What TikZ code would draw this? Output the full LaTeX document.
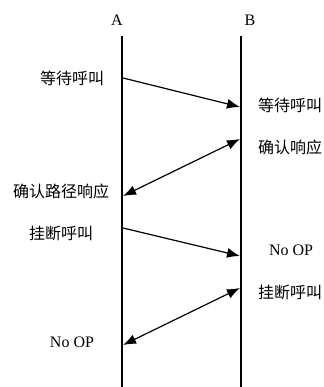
\documentclass[tikz,border=0pt]{standalone}
\usepackage{fontspec}
\setmainfont{Liberation Serif}
\newfontfamily\cjk{Noto Sans CJK SC}
\usetikzlibrary{arrows.meta}
\tikzset{
  life/.style={line width=2.4pt},
  msg/.style={line width=1.2pt,-{Latex[length=13pt,width=10pt]}},
  dmsg/.style={line width=1.2pt,{Latex[length=13pt,width=10pt]}-{Latex[length=13pt,width=10pt]}},
  cn/.style={font=\cjk\fontsize{16pt}{18pt}\selectfont, inner sep=0pt},
  ln/.style={font=\fontsize{16pt}{18pt}\selectfont, inner sep=0pt}
}
\begin{document}
\begin{tikzpicture}[x=1pt,y=-1pt]
\useasboundingbox (0,0) rectangle (323,387);
% headers
\node[ln] (A) at (117,20) {A};
\node[ln] (B) at (250,20) {B};
% lifelines
\coordinate (At) at (122,36);
\coordinate (Ab) at (122,387);
\coordinate (Bt) at (241,36);
\coordinate (Bb) at (241,387);
\draw[life] (At) -- (Ab);
\draw[life] (Bt) -- (Bb);
% message end points
\coordinate (a1) at (123,78);
\coordinate (b1) at (240,107);
\coordinate (b2) at (240,139);
\coordinate (a2) at (123,196);
\coordinate (a3) at (123,228);
\coordinate (b3) at (240,256);
\coordinate (b4) at (240,288);
\coordinate (a4) at (123,345);
\draw[msg] (a1) -- (b1);
\draw[dmsg] (b2) -- (a2);
\draw[msg] (a3) -- (b3);
\draw[dmsg] (b4) -- (a4);
% labels
\node[cn] (l1) at (72,78) {等待呼叫};
\node[cn,anchor=west] (r1) at (258,105) {等待呼叫};
\node[cn,anchor=west] (r2) at (258,147) {确认响应};
\node[cn] (l2) at (61,191) {确认路径响应};
\node[cn] (l3) at (61,233) {挂断呼叫};
\node[ln] (r3) at (291,250) {No OP};
\node[cn,anchor=west] (r4) at (258,292) {挂断呼叫};
\node[ln] (l4) at (72,342) {No OP};
\end{tikzpicture}
\end{document}
